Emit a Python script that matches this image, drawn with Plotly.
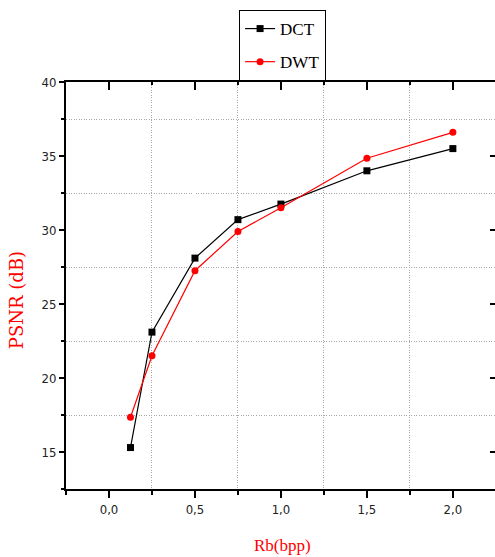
import plotly.graph_objects as go

rb = [0.125, 0.25, 0.5, 0.75, 1.0, 1.5, 2.0]
psnr_dct = [15.3, 23.1, 28.1, 30.7, 31.75, 34.0, 35.5]
psnr_dwt = [17.35, 21.5, 27.25, 29.9, 31.5, 34.85, 36.6]

xr = [-0.25, 2.245]
yr = [12.5, 40]
serif = "Liberation Serif, Times New Roman, serif"
tickfont = dict(family="DejaVu Sans Condensed, Liberation Sans Narrow, Liberation Sans", size=13, color="#222")
grid = dict(showgrid=True, gridcolor="#a8a8a8", griddash="1px,1.5px", gridwidth=1)

fig = go.Figure()
fig.add_trace(go.Scatter(x=rb, y=psnr_dct, name="DCT", mode="lines+markers",
                         line=dict(color="black", width=1.2),
                         marker=dict(symbol="square", size=7, color="black"),
                         legendgroup="a"))
fig.add_trace(go.Scatter(x=rb, y=psnr_dwt, name="DWT", mode="lines+markers",
                         line=dict(color="red", width=1.2),
                         marker=dict(symbol="circle", size=7, color="red"),
                         legendgroup="b"))
fig.add_trace(go.Scatter(x=[None], y=[None], xaxis="x2", yaxis="y2", showlegend=False))

fig.update_layout(
    template="none",
    width=495, height=557,
    margin=dict(l=66, r=0, t=82, b=68, autoexpand=False),
    paper_bgcolor="white", plot_bgcolor="white",
    separators=", ",
    showlegend=True,
    legend=dict(xref="container", yref="container", x=0.483, y=0.982,
                xanchor="left", yanchor="top",
                bordercolor="black", borderwidth=1,
                font=dict(family=serif, size=17, color="black"),
                tracegroupgap=8, bgcolor="white"),
    xaxis=dict(range=xr, tickmode="linear", tick0=0, dtick=0.5, tickformat=".1f",
               showgrid=False, zeroline=False, automargin=False,
               showline=True, linecolor="black", linewidth=2,
               ticks="outside", ticklen=7, tickwidth=1.5, tickcolor="black",
               tickfont=tickfont,
               minor=dict(dtick=0.25, tick0=-0.25, ticks="outside", ticklen=4, tickcolor="black", **grid)),
    yaxis=dict(range=yr, tickmode="linear", tick0=15, dtick=5,
               showgrid=False, zeroline=False, automargin=False,
               showline=True, linecolor="black", linewidth=2,
               ticks="outside", ticklen=5, tickwidth=1.5, tickcolor="black",
               tickfont=tickfont,
               minor=dict(dtick=2.5, tick0=12.5, ticks="outside", ticklen=3, tickcolor="black", **grid)),
    xaxis2=dict(range=xr, overlaying="x", side="top", tickmode="linear", tick0=0, dtick=0.5,
                showticklabels=False, showgrid=False, zeroline=False, automargin=False,
                showline=True, linecolor="black", linewidth=2,
                ticks="inside", ticklen=8, tickwidth=1.5, tickcolor="black",
                minor=dict(dtick=0.25, tick0=-0.25, ticks="inside", ticklen=3, tickcolor="black")),
    yaxis2=dict(range=yr, overlaying="y", side="right", tickmode="linear", tick0=15, dtick=5,
                showticklabels=False, showgrid=False, zeroline=False, showline=False, automargin=False,
                ticks="inside", ticklen=5, tickwidth=1.5, tickcolor="black"),
    annotations=[
        dict(text="PSNR (dB)", xref="paper", yref="paper", x=-0.1166, y=0.464,
             textangle=-90, showarrow=False, xanchor="center", yanchor="middle",
             font=dict(family="DejaVu Serif, serif", size=18, color="red")),
        dict(text="Rb(bpp)", xref="paper", yref="paper", x=0.5035, y=-0.1376,
             showarrow=False, xanchor="center", yanchor="middle",
             font=dict(family=serif, size=17, color="red")),
    ],
)

fig.write_html("out.html", config={"displayModeBar": False},
               post_script="document.body.style.margin='0';document.body.style.overflow='hidden';")
